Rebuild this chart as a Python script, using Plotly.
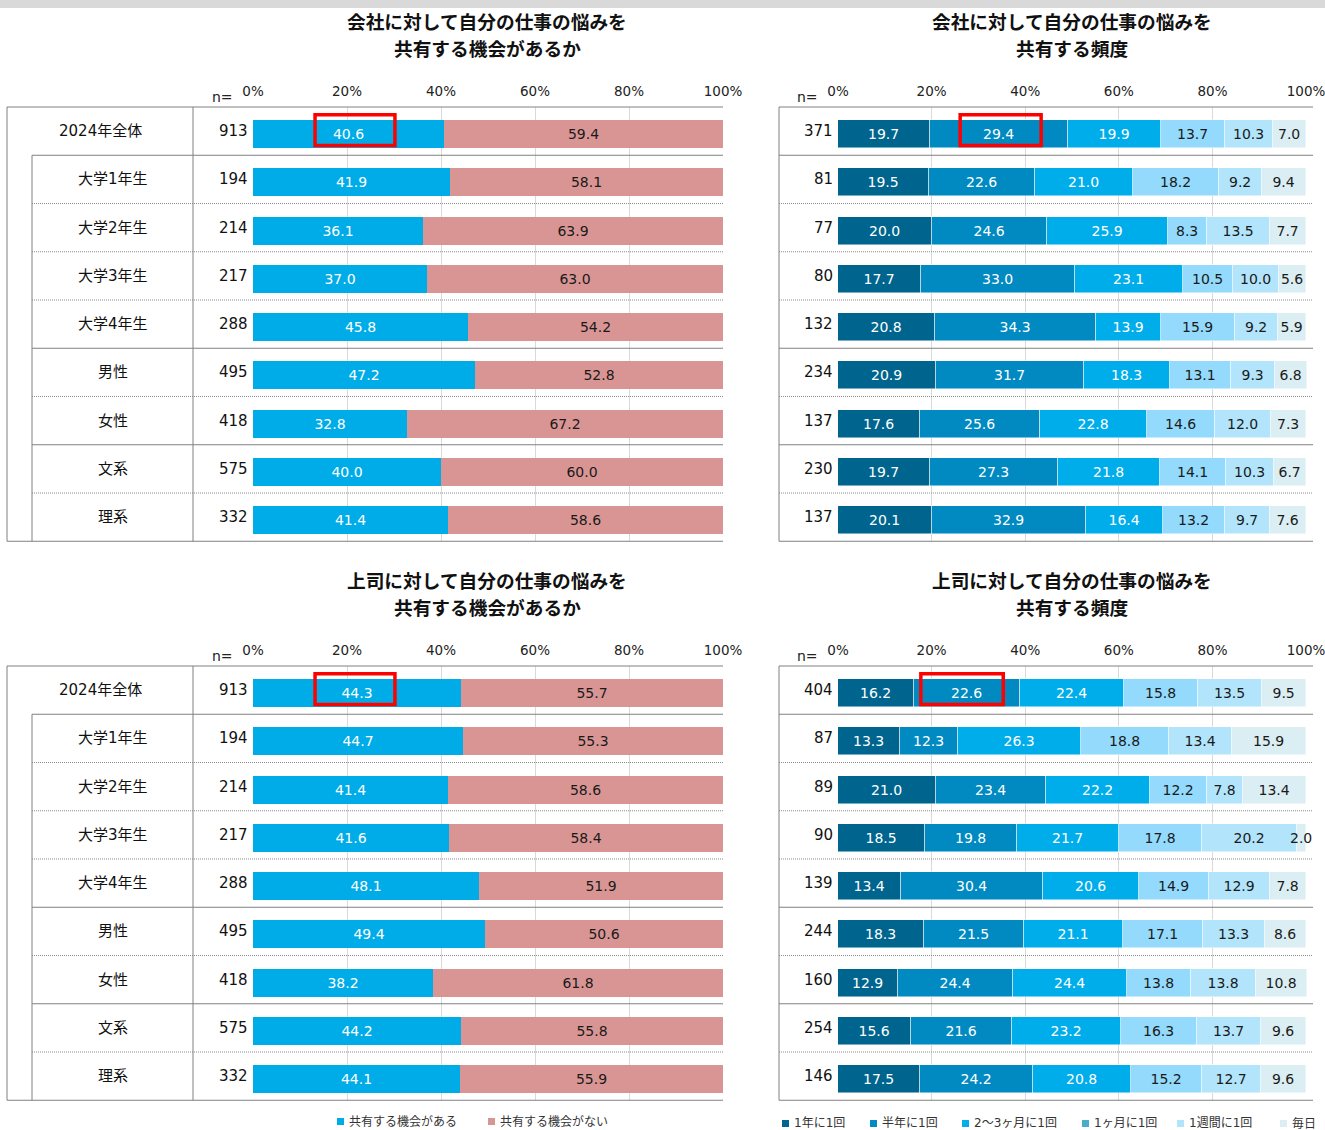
import plotly.graph_objects as go

W, H = 1325, 1130
FONT = "DejaVu Sans, Noto Sans CJK JP, sans-serif"
JP_FONT = "Noto Sans CJK JP, sans-serif"

ROWS = ["2024年全体", "大学1年生", "大学2年生", "大学3年生", "大学4年生",
        "男性", "女性", "文系", "理系"]
TICKS = [0, 20, 40, 60, 80, 100]
TICK_TEXT = ["0%", "20%", "40%", "60%", "80%", "100%"]

SHARE_LABELS = ["共有する機会がある", "共有する機会がない"]
FREQ_LABELS = ["1年に1回", "半年に1回", "2～3ヶ月に1回", "1ヶ月に1回", "1週間に1回", "毎日"]

# 会社に対して ... 共有する機会があるか
company_n = [913, 194, 214, 217, 288, 495, 418, 575, 332]
company_yes = [40.6, 41.9, 36.1, 37.0, 45.8, 47.2, 32.8, 40.0, 41.4]
company_no = [59.4, 58.1, 63.9, 63.0, 54.2, 52.8, 67.2, 60.0, 58.6]

# 会社に対して ... 共有する頻度
company_freq_n = [371, 81, 77, 80, 132, 234, 137, 230, 137]
company_year = [19.7, 19.5, 20.0, 17.7, 20.8, 20.9, 17.6, 19.7, 20.1]
company_half = [29.4, 22.6, 24.6, 33.0, 34.3, 31.7, 25.6, 27.3, 32.9]
company_quarter = [19.9, 21.0, 25.9, 23.1, 13.9, 18.3, 22.8, 21.8, 16.4]
company_month = [13.7, 18.2, 8.3, 10.5, 15.9, 13.1, 14.6, 14.1, 13.2]
company_week = [10.3, 9.2, 13.5, 10.0, 9.2, 9.3, 12.0, 10.3, 9.7]
company_daily = [7.0, 9.4, 7.7, 5.6, 5.9, 6.8, 7.3, 6.7, 7.6]

# 上司に対して ... 共有する機会があるか
boss_n = [913, 194, 214, 217, 288, 495, 418, 575, 332]
boss_yes = [44.3, 44.7, 41.4, 41.6, 48.1, 49.4, 38.2, 44.2, 44.1]
boss_no = [55.7, 55.3, 58.6, 58.4, 51.9, 50.6, 61.8, 55.8, 55.9]

# 上司に対して ... 共有する頻度
boss_freq_n = [404, 87, 89, 90, 139, 244, 160, 254, 146]
boss_year = [16.2, 13.3, 21.0, 18.5, 13.4, 18.3, 12.9, 15.6, 17.5]
boss_half = [22.6, 12.3, 23.4, 19.8, 30.4, 21.5, 24.4, 21.6, 24.2]
boss_quarter = [22.4, 26.3, 22.2, 21.7, 20.6, 21.1, 24.4, 23.2, 20.8]
boss_month = [15.8, 18.8, 12.2, 17.8, 14.9, 17.1, 13.8, 16.3, 15.2]
boss_week = [13.5, 13.4, 7.8, 20.2, 12.9, 13.3, 13.8, 13.7, 12.7]
boss_daily = [9.5, 15.9, 13.4, 2.0, 7.8, 8.6, 10.8, 9.6, 9.6]

SHARE_COLORS = ["#00ACE8", "#D99594"]
SHARE_TEXT = ["white", "#1a1a1a"]
FREQ_COLORS = ["#00658E", "#008AC1", "#00ADEB", "#93DAFD", "#B2E5FC", "#DAEEF3"]
FREQ_TEXT = ["white", "white", "white", "#1a1a1a", "#1a1a1a", "#1a1a1a"]
FREQ_SWATCH = ["#00658E", "#008AC1", "#00ADEB", "#4BACC6", "#B2E5FC", "#DAEEF3"]

LINE = "#808080"
GRID = "#d9d9d9"
ROW_H = 48.25


def X(v):
    return v / W


def Y(v):
    return 1 - v / H


fig = go.Figure()

# panel: axis suffix, x pixel extent, x range max, table top, has label column
# (frequency rows sum to up to 100.1 because of rounding, so leave a little room)
panels = [
    ("", (253, 723), 100, 107, True),
    ("2", (838, 1307), 100.2, 107, False),
    ("3", (253, 723), 100, 666, True),
    ("4", (838, 1307), 100.2, 666, False),
]
titles = [
    ("会社に対して自分の仕事の悩みを", "共有する機会があるか"),
    ("会社に対して自分の仕事の悩みを", "共有する頻度"),
    ("上司に対して自分の仕事の悩みを", "共有する機会があるか"),
    ("上司に対して自分の仕事の悩みを", "共有する頻度"),
]
panel_n = [company_n, company_freq_n, boss_n, boss_freq_n]
panel_series = [
    [company_yes, company_no],
    [company_year, company_half, company_quarter, company_month, company_week, company_daily],
    [boss_yes, boss_no],
    [boss_year, boss_half, boss_quarter, boss_month, boss_week, boss_daily],
]
highlights = [(0, 13.2, 30.2), (1, 26.1, 43.4), (2, 13.2, 30.2), (3, 17.7, 35.3)]

shapes = []
annotations = []

for i, (sfx, (x0, x1), xmax, top, has_labels) in enumerate(panels):
    xa, ya = "x" + sfx, "y" + sfx
    series = panel_series[i]
    if len(series) == 2:
        names, colors, tcolors = SHARE_LABELS, SHARE_COLORS, SHARE_TEXT
        mline = 0
    else:
        names, colors, tcolors = FREQ_LABELS, FREQ_COLORS, FREQ_TEXT
        mline = 0.8
    for vals, name, col, tcol in zip(series, names, colors, tcolors):
        fig.add_trace(go.Bar(
            y=ROWS, x=vals, name=name, orientation="h",
            xaxis=xa, yaxis=ya, width=0.58, offset=-0.23,
            marker=dict(color=col, line=dict(width=mline, color="rgba(255,255,255,0.6)")),
            text=[f"{v:.1f}" for v in vals], textposition="inside",
            insidetextanchor="middle", textangle=0, cliponaxis=False,
            insidetextfont=dict(color=tcol, size=14, family=FONT),
            showlegend=False, hoverinfo="skip",
        ))

    bottom = top + 9 * ROW_H
    fig.layout["xaxis" + sfx] = dict(
        domain=[X(x0), X(x1)], range=[0, xmax], side="top", anchor=ya,
        tickvals=TICKS, ticktext=TICK_TEXT, showgrid=True, gridcolor=GRID,
        gridwidth=1, zeroline=False, showline=False, ticks="outside",
        ticklen=5, tickcolor="rgba(0,0,0,0)", automargin=False,
        ticklabeloverflow="allow",
        tickfont=dict(size=13.5, color="#222", family=FONT), fixedrange=True,
    )
    fig.layout["yaxis" + sfx] = dict(
        domain=[Y(bottom), Y(top)], anchor=xa, type="category",
        categoryarray=ROWS, range=[8.5, -0.5], showticklabels=False,
        showgrid=False, zeroline=False, showline=False, fixedrange=True,
        automargin=False,
    )

    # table lines
    left = 7 if has_labels else 779
    inner = 32 if has_labels else 779
    right = 723 if has_labels else 1313
    b = [top + k * ROW_H for k in range(10)]
    solid = dict(color=LINE, width=1)
    dotted = dict(color="#8c8c8c", width=1, dash="1px,1px")
    shapes.append(dict(type="line", xref="paper", yref="paper",
                       x0=X(left), x1=X(right), y0=Y(b[0]), y1=Y(b[0]), line=solid))
    shapes.append(dict(type="line", xref="paper", yref="paper",
                       x0=X(left), x1=X(right), y0=Y(b[9]), y1=Y(b[9]), line=solid))
    for k in range(1, 9):
        style = solid if k in (1, 5, 7) else dotted
        shapes.append(dict(type="line", xref="paper", yref="paper",
                           x0=X(inner), x1=X(right), y0=Y(b[k]), y1=Y(b[k]), line=style))
    shapes.append(dict(type="line", xref="paper", yref="paper",
                       x0=X(left), x1=X(left), y0=Y(b[0]), y1=Y(b[9]), line=solid))
    if has_labels:
        shapes.append(dict(type="line", xref="paper", yref="paper",
                           x0=X(32), x1=X(32), y0=Y(b[1]), y1=Y(b[9]), line=solid))
        shapes.append(dict(type="line", xref="paper", yref="paper",
                           x0=X(193), x1=X(193), y0=Y(b[0]), y1=Y(b[9]), line=solid))

    # row labels and n
    n_x = 250 if has_labels else 835
    for r, (row, n) in enumerate(zip(ROWS, panel_n[i])):
        annotations.append(dict(
            x=X(n_x), xref="paper", y=row, yref=ya, text=str(n),
            xanchor="right", yanchor="middle", showarrow=False,
            font=dict(size=15, color="#111", family=FONT)))
        if has_labels:
            cx = 100 if r == 0 else 112.5
            annotations.append(dict(
                x=X(cx), xref="paper", y=row, yref=ya, text=row,
                xanchor="center", yanchor="middle", showarrow=False,
                font=dict(size=15, color="#111", family=FONT)))
    annotations.append(dict(
        x=X(222 if has_labels else 807), xref="paper", y=Y(top - 10), yref="paper",
        text="n=", showarrow=False, xanchor="center", yanchor="middle",
        font=dict(size=14, color="#222", family=FONT)))

    # titles
    tcx = 487 if has_labels else 1072
    for line_txt, ty in zip(titles[i], (top - 87, top - 60)):
        annotations.append(dict(
            x=X(tcx), xref="paper", y=Y(ty), yref="paper", text="<b>" + line_txt + "</b>",
            showarrow=False, xanchor="center", yanchor="middle",
            font=dict(size=18.7, color="#111", family=JP_FONT)))

# red highlight boxes
for p, hx0, hx1 in highlights:
    sfx = panels[p][0]
    shapes.append(dict(type="rect", xref="x" + sfx, yref="y" + sfx,
                       x0=hx0, x1=hx1, y0=-0.34, y1=0.3,
                       line=dict(color="#ff0000", width=3.5)))

# top grey strip
shapes.append(dict(type="rect", xref="paper", yref="paper", x0=0, x1=1,
                   y0=Y(8), y1=1, fillcolor="#d9d9d9", line=dict(width=0), layer="below"))

# legends
share_legend_x = [337, 488]
for lx, name, col in zip(share_legend_x, SHARE_LABELS, SHARE_COLORS):
    shapes.append(dict(type="rect", xref="paper", yref="paper",
                       x0=X(lx), x1=X(lx + 7), y0=Y(1125), y1=Y(1118),
                       fillcolor=col, line=dict(width=0)))
    annotations.append(dict(x=X(lx + 10), xref="paper", y=Y(1121), yref="paper",
                            text=name, showarrow=False, xanchor="left", yanchor="middle",
                            font=dict(size=12, color="#333", family=FONT)))

freq_legend_x = [782, 870, 962, 1082, 1177, 1280]
for lx, name, col in zip(freq_legend_x, FREQ_LABELS, FREQ_SWATCH):
    shapes.append(dict(type="rect", xref="paper", yref="paper",
                       x0=X(lx), x1=X(lx + 7), y0=Y(1127), y1=Y(1120),
                       fillcolor=col, line=dict(width=0)))
    annotations.append(dict(x=X(lx + 10), xref="paper", y=Y(1123), yref="paper",
                            text=name, showarrow=False, xanchor="left", yanchor="middle",
                            font=dict(size=12, color="#333", family=FONT)))

fig.update_layout(
    template="none",
    width=W, height=H, autosize=False,
    margin=dict(l=0, r=0, t=0, b=0, pad=0),
    paper_bgcolor="white", plot_bgcolor="white",
    barmode="stack", bargap=0,
    uniformtext=dict(minsize=14, mode="show"),
    font=dict(family=FONT, color="#222"),
    shapes=shapes, annotations=annotations,
    showlegend=False,
)

fig.write_html(
    "out.html",
    config={"displayModeBar": False, "responsive": False},
    post_script=(
        "document.body.style.margin='0';"
        "document.body.style.overflow='hidden';"
    ),
)
